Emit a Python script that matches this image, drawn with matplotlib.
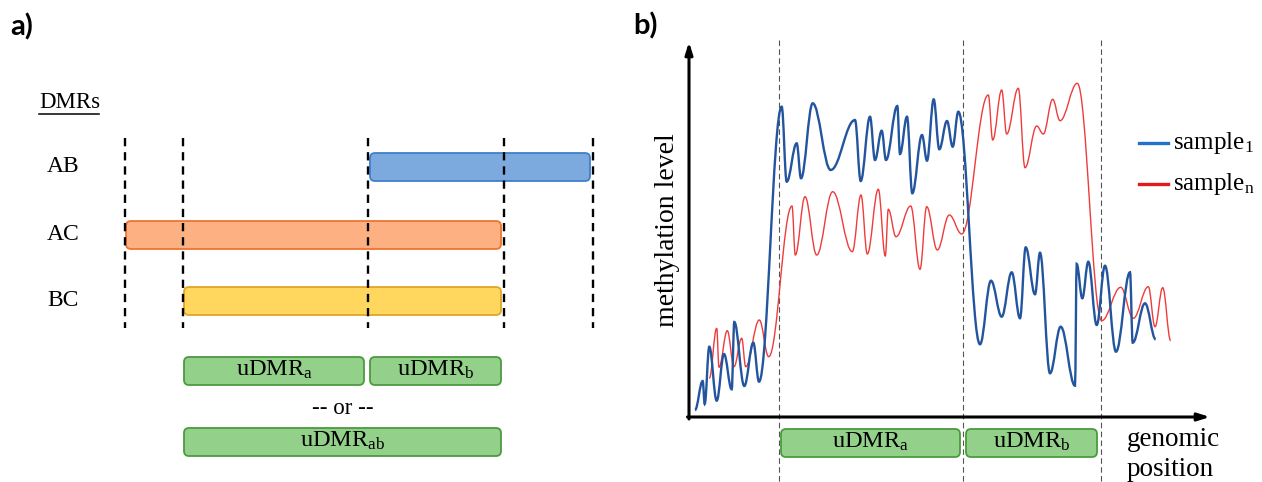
import matplotlib
matplotlib.use("Agg")
import matplotlib.pyplot as plt
from matplotlib.patches import FancyBboxPatch, PathPatch
from matplotlib.path import Path

plt.rcParams['font.family'] = ['Liberation Serif', 'DejaVu Serif']
plt.rcParams['mathtext.fontset'] = 'custom'
plt.rcParams['mathtext.rm'] = 'Liberation Serif'
plt.rcParams['mathtext.it'] = 'Liberation Serif:italic'

# ---- panel a) : DMR intervals (pixel units of the figure) ----
dmr_names = ["AB", "AC", "BC"]
dmr_start = [370, 126, 184]
dmr_end = [590, 501, 501]
dmr_row = [153, 221, 287]
dmr_fill = ["#7DAADE", "#FDB183", "#FFD75E"]
dmr_edge = ["#3F7FCC", "#EE7530", "#E0A52A"]
cut_x = [125, 183, 368, 504, 593]

udmr_labels = [r"uDMR$_{\mathrm{a}}$", r"uDMR$_{\mathrm{b}}$", r"uDMR$_{\mathrm{ab}}$"]
udmr_start = [184, 370, 184]
udmr_end = [364, 501, 501]
udmr_row = [357, 357, 428]

# ---- panel b) : methylation traces (peaks / troughs) ----
blue_x = [695, 702.7, 704.7, 709.3, 716.7, 724, 731.7, 734.3, 744.3, 753.3, 759,
          781.7, 786.7, 796.7, 801, 812.7, 830.7, 855, 860.7, 870, 875, 881.7, 886,
          897.3, 900, 907, 912.3, 922, 927, 933.7, 939.3, 947, 952.7, 958.3,
          980, 991, 1001.7, 1011.7, 1020, 1025.7, 1035, 1040, 1050, 1060.7, 1075,
          1076.7, 1082.3, 1088.3, 1096.7, 1105, 1116, 1130, 1132.7, 1145, 1155.7]
blue_y = [410, 381, 404, 346.7, 400.7, 354, 389.3, 322, 386, 342.7, 381.7,
          106.7, 181.7, 143.3, 178.3, 103.3, 170, 120, 181, 116.7, 160, 130.7, 160,
          106, 154, 116.7, 193.3, 135, 160.7, 99.3, 149.3, 121, 146.7, 111.7,
          344.3, 280.7, 316.7, 272.3, 318.3, 247.3, 294.3, 252.7, 373.3, 326.7, 385.7,
          264, 298.3, 261.7, 325, 265.7, 351.7, 272.3, 342.7, 303.3, 339.3]
red_x = [709.3, 716.7, 719, 727.3, 734, 741.7, 745.7, 759.3, 768.7, 792, 795.3,
         805, 816.7, 832.7, 852.3, 861, 867.3, 878.3, 885.3, 888.3, 896, 910.7,
         920, 926.7, 937.3, 949.3, 961.7, 988.3, 992.7, 1001.7, 1006.7, 1018.3,
         1025, 1036.7, 1043.3, 1052.7, 1060, 1077.3, 1101.7, 1120.7, 1133.3,
         1148.3, 1155, 1162.7, 1170.7]
red_y = [378.3, 328.3, 367.3, 330.7, 366.7, 338.3, 366.7, 320, 356.7, 206, 255,
         196.7, 255, 191.7, 251.7, 195, 254, 189.3, 256, 209.3, 236.7, 206,
         269.3, 206.7, 250, 215, 234, 95, 140, 90, 134, 88.3,
         167.7, 126, 134, 99.3, 120.7, 83.3, 320.7, 287.3, 318.3,
         286.7, 326.7, 287.7, 340.7]
region_x = [778.7, 963, 1100.7]
b_boxes = [r"uDMR$_{\mathrm{a}}$", r"uDMR$_{\mathrm{b}}$"]
b_box_start = [781, 966]
b_box_end = [960, 1097]


def wiggle(xs, ys):
    # cubic segments with flat tangents at every extreme point
    verts = [(xs[0], ys[0])]
    codes = [Path.MOVETO]
    for i in range(len(xs) - 1):
        dx = xs[i + 1] - xs[i]
        verts += [(xs[i] + dx * 0.38, ys[i]), (xs[i + 1] - dx * 0.38, ys[i + 1]),
                  (xs[i + 1], ys[i + 1])]
        codes += [Path.CURVE4] * 3
    return Path(verts, codes)


def box(ax, x0, x1, y, fc, ec, h=28):
    ax.add_patch(FancyBboxPatch((x0, y), x1 - x0, h,
                                boxstyle="round,pad=0,rounding_size=5",
                                fc=fc, ec=ec, lw=1.3, zorder=2))


fig = plt.figure(figsize=(12.62, 4.82), dpi=100)
ax = fig.add_axes([0, 0, 1, 1])
ax.set_xlim(0, 1262)
ax.set_ylim(482, 0)
ax.axis("off")

# panel a
ax.text(10, 27, "a)", fontsize=21, fontweight="bold", family="Lato",
        va="center", ha="left")
ax.text(39, 103, "DMRs", fontsize=16.5, va="center", ha="left")
ax.plot([39, 99], [114, 114], color="black", lw=1.1)

for x in cut_x:
    ax.plot([x, x], [138, 328], color="black", lw=1.7,
            linestyle=(0, (3.5, 2.5)), zorder=3)

for name, s, e, r, fc, ec in zip(dmr_names, dmr_start, dmr_end, dmr_row, dmr_fill, dmr_edge):
    box(ax, s, e, r, fc, ec)
    ax.text(63, r + 14, name, fontsize=17, ha="center", va="center")

for lab, s, e, r in zip(udmr_labels, udmr_start, udmr_end, udmr_row):
    box(ax, s, e, r, "#93D18A", "#4C9A40")
    ax.text((s + e) / 2, r + 13, lab, fontsize=17.5, ha="center", va="center", zorder=4)
ax.text(343, 408, "-- or --", fontsize=16.5, ha="center", va="center")

# panel b
ax.text(633, 26, "b)", fontsize=21, fontweight="bold", family="Lato",
        va="center", ha="left")
for x in region_x:
    ax.plot([x, x], [40, 482], color="#555555", lw=0.8,
            linestyle=(0, (5, 3)), zorder=1)

ax.annotate("", xy=(689, 42), xytext=(689, 419),
            arrowprops=dict(arrowstyle="-|>,head_length=0.7,head_width=0.22",
                            lw=2.2, color="black", shrinkA=0, shrinkB=0))
ax.annotate("", xy=(1210, 417), xytext=(687.5, 417),
            arrowprops=dict(arrowstyle="-|>,head_length=0.7,head_width=0.22",
                            lw=2.2, color="black", shrinkA=0, shrinkB=0))

ax.add_patch(PathPatch(wiggle(red_x, red_y), fc="none", ec="#EF3B3B", lw=1.0, zorder=3))
ax.add_patch(PathPatch(wiggle(blue_x, blue_y), fc="none", ec="#23559E", lw=1.7, zorder=4))

for lab, s, e in zip(b_boxes, b_box_start, b_box_end):
    box(ax, s, e, 429, "#93D18A", "#4C9A40")
    ax.text((s + e) / 2, 442, lab, fontsize=17.5, ha="center", va="center", zorder=4)

ax.text(668, 230, "methylation level", fontsize=20, rotation=90,
        ha="center", va="center")
ax.text(1127, 440, "genomic", fontsize=19.5, ha="left", va="center")
ax.text(1127, 470, "position", fontsize=19.5, ha="left", va="center")

ax.plot([1139, 1168], [143, 143], color="#2272CC", lw=2.4)
ax.plot([1139, 1168], [184, 184], color="#E3191C", lw=2.4)
ax.text(1173, 143, r"sample$_{\mathrm{1}}$", fontsize=18, ha="left", va="center")
ax.text(1173, 184, r"sample$_{\mathrm{n}}$", fontsize=18, ha="left", va="center")

fig.savefig("out.png", dpi=100)
